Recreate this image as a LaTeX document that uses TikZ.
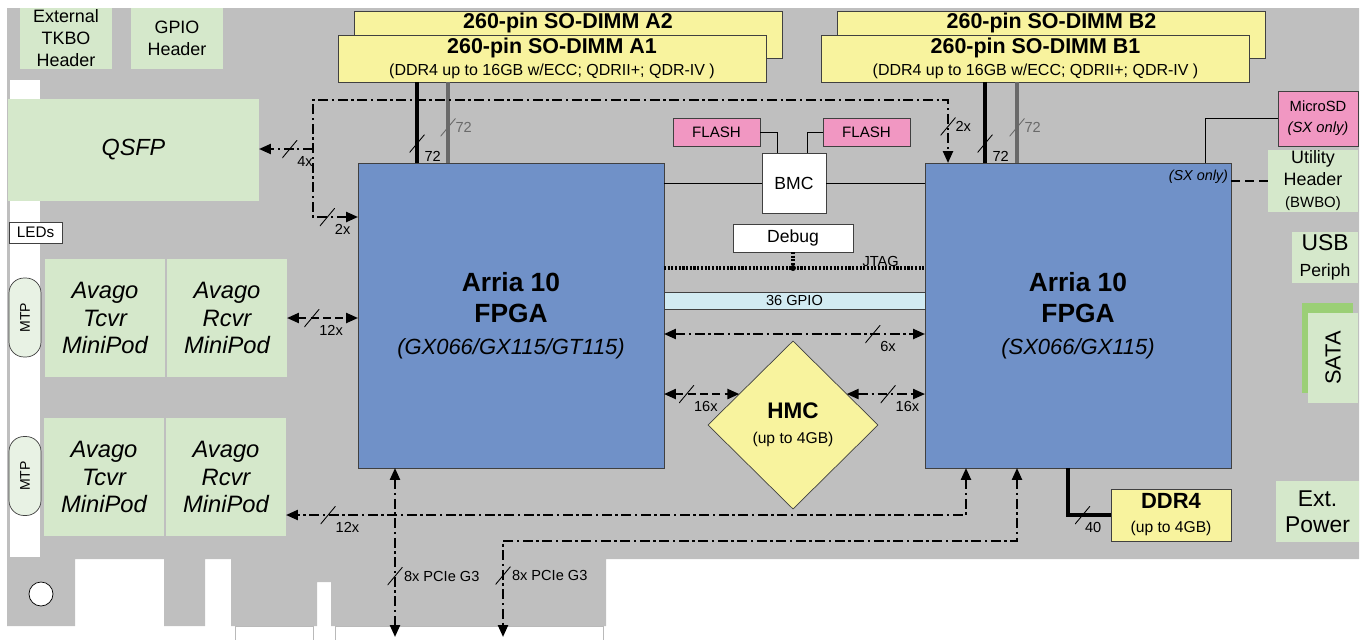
\documentclass[tikz,border=0pt]{standalone}
\usepackage{fontspec}
\setmainfont{Liberation Sans}
\usepackage{xcolor}
\definecolor{boardgray}{RGB}{191,191,191}
\definecolor{fpgablue}{RGB}{112,145,200}
\definecolor{memyellow}{RGB}{248,243,158}
\definecolor{iogreen}{RGB}{213,232,203}
\definecolor{satagreen}{RGB}{155,207,118}
\definecolor{flashpink}{RGB}{241,151,194}
\definecolor{gpioblue}{RGB}{210,235,242}
\definecolor{mtpfill}{RGB}{232,242,228}
\definecolor{busgray}{RGB}{105,105,105}
\definecolor{edgegray}{RGB}{64,64,64}
\usepackage{tikz}
\usetikzlibrary{shapes.geometric, arrows.meta, positioning, calc}

\begin{document}
\begin{tikzpicture}[
    x=0.02cm, y=-0.02cm,
    >={Triangle[length=2.4mm,width=2mm]},
    every node/.style={inner sep=0pt, outer sep=0pt},
    box/.style={rectangle, align=center},
    io/.style={box, fill=iogreen, font=\fontsize{10.2}{12.5}\selectfont},
    avago/.style={io, minimum width=2.4cm, minimum height=2.36cm, font=\fontsize{13.5}{15.4}\selectfont\itshape},
    fpga/.style={box, draw=edgegray, fill=fpgablue, minimum width=6.12cm, minimum height=6.1cm},
    dimm/.style={box, draw=edgegray, fill=memyellow, minimum width=8.56cm, minimum height=0.94cm},
    chip/.style={box, draw=edgegray, fill=white},
    flash/.style={box, draw=edgegray, fill=flashpink, minimum width=1.74cm, minimum height=0.56cm, font=\fontsize{8.6}{10}\selectfont},
    mtp/.style={draw=edgegray, fill=mtpfill, rounded corners=0.3cm, rotate=90, minimum width=1.58cm, minimum height=0.64cm, font=\fontsize{8}{9}\selectfont},
    bus/.style={line width=1.3pt, dash pattern=on 5.5pt off 2.2pt on 1.2pt off 2.2pt},
    dbus/.style={line width=1.3pt, dash pattern=on 4.5pt off 2.5pt},
    membus/.style={line width=2.8pt},
    jtag/.style={line width=2pt, dash pattern=on 1.2pt off 0.9pt},
    slashmark/.style={minimum width=0.3cm, minimum height=0.36cm,
      path picture={\draw[-, solid, line width=0.5pt, draw=#1] (path picture bounding box.south west) -- (path picture bounding box.north east);}},
    slashmark/.default=black,
    buslbl/.style={font=\fontsize{8.3}{9}\selectfont}
  ]

  \useasboundingbox (0,0) rectangle (1362,639);

  % Board outline with PCIe edge
  \fill[boardgray] (7,8) -- (1359,8) -- (1359,559) -- (606,559) -- (606,626) -- (331,626) -- (331,582) -- (317,582) -- (317,626) -- (231,626) -- (231,559) -- (205,559) -- (205,626) -- (164,626) -- (164,559) -- (75,559) -- (75,626) -- (7,626) -- cycle;
  \draw[gray!55, fill=white] (235,626) rectangle (313,645);
  \draw[gray!55, fill=white] (335,626) rectangle (603,645);
  \fill[white] (10,80) rectangle (40,557);
  \draw[fill=white] (41,594) circle[radius=12];

  % Left edge: headers, QSFP, optics
  \node[io] (tkbo) at (66,38.5) [minimum width=1.84cm, minimum height=1.22cm] {External\\TKBO\\Header};
  \node[io] (gpiohdr) at (177,38.5) [minimum width=1.84cm, minimum height=1.22cm] {GPIO\\Header};
  \node[io, font=\fontsize{13.3}{16}\selectfont\itshape] (qsfp) at (133.5,150) [minimum width=5.02cm, minimum height=2.04cm] {QSFP};
  \node[chip, font=\fontsize{8.7}{10}\selectfont] (leds) at (35.5,232.5) [minimum width=1.06cm, minimum height=0.42cm] {LEDs};
  \node[mtp] (mtpA) at (25,317.5) {MTP};
  \node[mtp] (mtpB) at (25,476) {MTP};
  \node[avago] (tcvrA) at (105,318) {Avago\\Tcvr\\MiniPod};
  \node[avago] (rcvrA) at (227,318) {Avago\\Rcvr\\MiniPod};
  \node[avago] (tcvrB) at (104,477) {Avago\\Tcvr\\MiniPod};
  \node[avago] (rcvrB) at (226,477) {Avago\\Rcvr\\MiniPod};

  % SO-DIMM slots
  \node[dimm, anchor=north, text height=0.36cm, text depth=0.58cm, font=\fontsize{12.2}{13}\selectfont\bfseries] (dimmA2) at (568,11) {260-pin SO-DIMM A2};
  \node[dimm, font=\fontsize{12.2}{12.5}\selectfont] (dimmA1) at (552,58.5) {\bfseries 260-pin SO-DIMM A1\\{\fontsize{9.1}{10}\selectfont (DDR4 up to 16GB w/ECC; QDRII+; QDR-IV )}};
  \node[dimm, anchor=north, text height=0.36cm, text depth=0.58cm, font=\fontsize{12.2}{13}\selectfont\bfseries] (dimmB2) at (1051.5,11) {260-pin SO-DIMM B2};
  \node[dimm, font=\fontsize{12.2}{12.5}\selectfont] (dimmB1) at (1035.5,58.5) {\bfseries 260-pin SO-DIMM B1\\{\fontsize{9.1}{10}\selectfont (DDR4 up to 16GB w/ECC; QDRII+; QDR-IV )}};

  % FPGAs
  \node[fpga, font=\fontsize{15}{18}\selectfont] (fpgaA) at (511,315.5) {\bfseries Arria 10\\\bfseries FPGA\\{\fontsize{12.5}{14}\selectfont\itshape (GX066/GX115/GT115)}};
  \node[fpga, font=\fontsize{15}{18}\selectfont] (fpgaB) at (1078,315.5) {\bfseries Arria 10\\\bfseries FPGA\\{\fontsize{12.5}{14}\selectfont\itshape (SX066/GX115)}};
  \node[font=\fontsize{8.2}{10}\selectfont\itshape, anchor=east] (sxnote) at (1228,177) {(SX only)};

  % Centre parts
  \node[chip, minimum width=1.28cm, minimum height=1.2cm, font=\fontsize{10}{12}\selectfont] (bmc) at (794,183) {BMC};
  \node[flash] (flashA) at (716.5,132) {FLASH};
  \node[flash] (flashB) at (866.5,132.5) {FLASH};
  \node[chip, minimum width=2.4cm, minimum height=0.56cm, font=\fontsize{10}{12}\selectfont] (debug) at (793,238) {Debug};
  \node[box, draw=edgegray, fill=gpioblue, minimum width=5.22cm, minimum height=0.34cm, font=\fontsize{8.3}{10}\selectfont] (gpio) at (794.5,300.5) {36 GPIO};
  \node[diamond, draw=edgegray, fill=memyellow, minimum width=3.4cm, minimum height=3.36cm, align=center, font=\fontsize{12.8}{14}\selectfont] (hmc) at (793,425) {\bfseries HMC\\{\fontsize{8.9}{10}\selectfont (up to 4GB)}};
  \node[box, draw=edgegray, fill=memyellow, minimum width=2.4cm, minimum height=1.04cm, font=\fontsize{12.5}{13.6}\selectfont] (ddr) at (1171,515) {\bfseries DDR4\\{\fontsize{8.9}{10}\selectfont (up to 4GB)}};

  % Right edge
  \node[box, draw=edgegray, fill=flashpink, minimum width=1.6cm, minimum height=1.1cm, font=\fontsize{8.4}{12}\selectfont] (microsd) at (1318,118.5) {MicroSD\\\textit{(SX only)}};
  \node[io, minimum width=1.8cm, minimum height=1.24cm] (utility) at (1313,181) {Utility\\Header\\{\fontsize{8.5}{10}\selectfont (BWBO)}};
  \node[io, minimum width=1.32cm, minimum height=1.02cm, font=\fontsize{13}{14.5}\selectfont] (usb) at (1325,257.5) {USB\\{\fontsize{10}{11}\selectfont Periph}};
  \fill[satagreen] (1302,303) rectangle (1353,393);
  \node[io, rotate=90, minimum width=1.8cm, minimum height=1cm, font=\fontsize{12.4}{14}\selectfont] (sata) at (1333,358) {SATA};
  \node[io, minimum width=1.66cm, minimum height=1.22cm, font=\fontsize{13}{15}\selectfont] (extpwr) at (1317.5,511.5) {Ext.\\Power};

  % Memory buses
  \draw[membus] (dimmA1.south -| 417,0) -- node[slashmark, pos=0.76, label={[buslbl]below right:72}] {} (fpgaA.north -| 417,0);
  \draw[membus, busgray] (dimmA1.south -| 448,0) -- node[slashmark=busgray, pos=0.56, label={[buslbl, text=busgray]right:72}] {} (fpgaA.north -| 448,0);
  \draw[membus] (dimmB1.south -| 985,0) -- node[slashmark, pos=0.76, label={[buslbl]below right:72}] {} (fpgaB.north -| 985,0);
  \draw[membus, busgray] (dimmB1.south -| 1017,0) -- node[slashmark=busgray, pos=0.56, label={[buslbl, text=busgray]right:72}] {} (fpgaB.north -| 1017,0);
  \draw[membus] (fpgaB.south -| 1068,0) |- node[slashmark, pos=0.67, label={[buslbl, xshift=-0.1cm]below right:40}] {} (ddr.west);

  % QSFP links
  \coordinate (qsfpTurn) at (313,100);
  \coordinate (qsfpTee) at (313,149);
  \draw[bus,<->] (fpgaA.west |- 0,217) -| node[slashmark, pos=0.34, label={[buslbl]below right:2x}] {} (qsfpTurn) -| node[slashmark, pos=0.71, label={[buslbl]right:2x}] {} (fpgaB.north -| 948,0);
  \draw[bus,->] (qsfpTee) -- node[slashmark, pos=0.43, label={[buslbl]below right:4x}] {} (qsfp.east |- qsfpTee);

  % MiniPod links
  \draw[dbus,<->] (rcvrA.east) -- node[slashmark, pos=0.35, label={[buslbl]below right:12x}] {} (fpgaA.west |- rcvrA.east);
  \draw[bus,<->] (fpgaB.south -| 966,0) |- node[slashmark, pos=0.969, label={[buslbl]below right:12x}] {} (rcvrB.east |- 0,515);

  % PCIe
  \coordinate (slotA) at (395,637);
  \coordinate (slotB) at (503,637);
  \draw[bus,<->] (fpgaA.south -| slotA) -- node[slashmark, pos=0.64, label={[buslbl, xshift=0.03cm]right:8x PCIe G3}] {} (slotA);
  \draw[bus,<->] (fpgaB.south -| 1017,0) |- (slotB |- 0,541) -- node[slashmark, pos=0.36, label={[buslbl, xshift=0.03cm]right:8x PCIe G3}] {} (slotB);

  % FPGA to FPGA and HMC
  \draw[jtag] (fpgaA.east |- 0,268) -- node[buslbl, pos=0.83, above=1pt] (jtaglbl) {JTAG} (fpgaB.west |- 0,268);
  \draw[jtag] (debug.south) -- (debug.south |- 0,268);
  \fill (debug.south |- 0,268) circle[radius=3];
  \draw[bus,<->] (fpgaA.east |- 0,334) -- node[slashmark, pos=0.8, label={[buslbl]below right:6x}] {} (fpgaB.west |- 0,334);
  \draw[dbus,<->] (fpgaA.east |- hmc.150) -- node[slashmark, pos=0.3, label={[buslbl]below right:16x}] {} (hmc.150);
  \draw[bus,<->] (hmc.30) -- node[slashmark, pos=0.53, label={[buslbl]below right:16x}] {} (fpgaB.west |- hmc.30);

  % BMC and management
  \draw (fpgaA.east |- bmc.west) -- (bmc.west);
  \draw (bmc.east) -- (fpgaB.west |- bmc.east);
  \draw (flashA.east) -| ([xshift=0.3cm]bmc.north west);
  \draw (flashB.west) -| ([xshift=-0.38cm]bmc.north east);
  \draw (fpgaB.north -| 1205,0) |- (microsd.west);
  \draw[line width=1.3pt, dash pattern=on 5pt off 3pt] (fpgaB.east |- utility.west) -- (utility.west);

\end{tikzpicture}
\end{document}
